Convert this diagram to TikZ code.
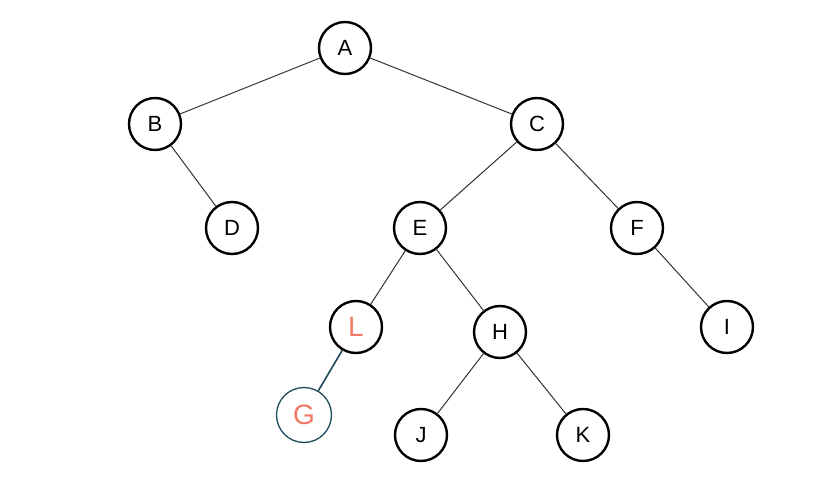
\documentclass[tikz,border=0pt]{standalone}
\usepackage{fontspec}
\setmainfont{Liberation Sans}
\usepackage{tikz}
\usetikzlibrary{positioning}
\definecolor{inkred}{HTML}{F07A66}
\definecolor{inkteal}{HTML}{1E4A5A}

\begin{document}
\begin{tikzpicture}[x=1pt,y=-1pt,
    vert/.style={circle,draw=black,line width=2.4pt,minimum size=52pt,inner sep=0pt,
      font=\fontsize{22}{24}\selectfont},
    added/.style={circle,draw=inkteal,line width=1.3pt,minimum size=55pt,inner sep=0pt,
      text=inkred,font=\fontsize{28}{30}\selectfont},
    edge/.style={draw=black!80,line width=1pt}]
  \useasboundingbox (0,0) rectangle (815,500);
  \node[vert] (A) at (345,48) {A};
  \node[vert] (B) at (155,124) {B};
  \node[vert] (C) at (537,124) {C};
  \node[vert] (D) at (232,228) {D};
  \node[vert] (E) at (420,228) {E};
  \node[vert] (F) at (637,228) {F};
  \node[vert,text=inkred,font=\fontsize{28}{30}\selectfont] (L) at (356,327) {L};
  \node[vert] (H) at (500,332) {H};
  \node[vert] (I) at (727,327) {I};
  \node[added] (G) at (304,415) {G};
  \node[vert] (J) at (421,435) {J};
  \node[vert] (K) at (583,435) {K};
  \foreach \a/\b in {A/B,A/C,B/D,C/E,C/F,E/L,E/H,F/I,H/J,H/K} {
    \draw[edge] (\a) -- (\b);
  }
  \draw[inkteal,line width=1.6pt] (L) -- (G);
\end{tikzpicture}
\end{document}
